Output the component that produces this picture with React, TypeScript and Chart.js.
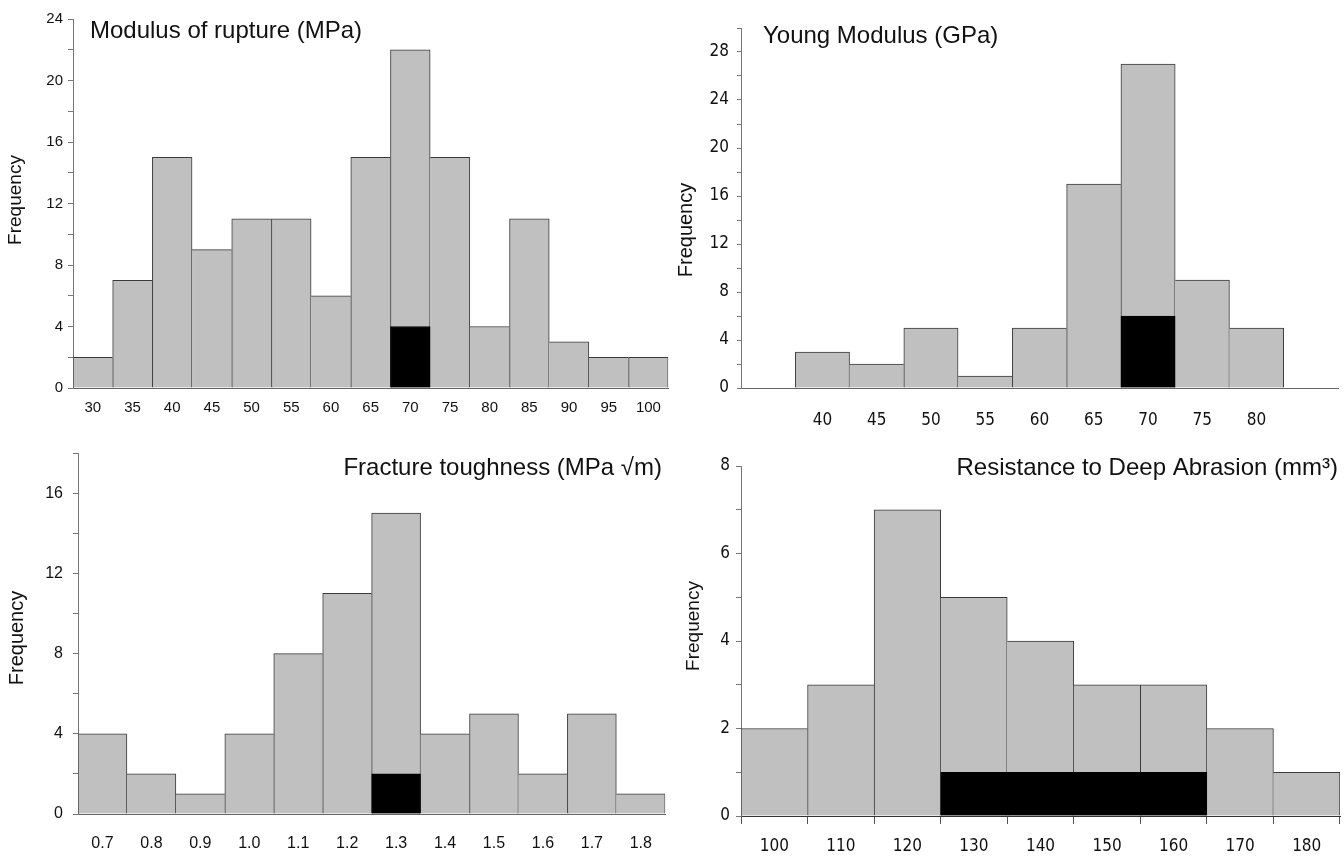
import React, { useEffect, useRef } from "react";
import { Chart, registerables } from "chart.js";

Chart.register(...registerables);

// ---------- DATA ----------
const ruptureBins = ["30", "35", "40", "45", "50", "55", "60", "65", "70", "75", "80", "85", "90", "95", "100"];
const ruptureCounts = [2, 7, 15, 9, 11, 11, 6, 15, 22, 15, 4, 11, 3, 2, 2];
const ruptureHighlighted = [0, 0, 0, 0, 0, 0, 0, 0, 4, 0, 0, 0, 0, 0, 0];

const youngBins = ["", "40", "45", "50", "55", "60", "65", "70", "75", "80", ""];
const youngCounts = [0, 3, 2, 5, 1, 5, 17, 27, 9, 5, 0];
const youngHighlighted = [0, 0, 0, 0, 0, 0, 0, 6, 0, 0, 0];

const toughnessBins = ["0.7", "0.8", "0.9", "1.0", "1.1", "1.2", "1.3", "1.4", "1.5", "1.6", "1.7", "1.8"];
const toughnessCounts = [4, 2, 1, 4, 8, 11, 15, 4, 5, 2, 5, 1];
const toughnessHighlighted = [0, 0, 0, 0, 0, 0, 2, 0, 0, 0, 0, 0];

const abrasionBins = ["100", "110", "120", "130", "140", "150", "160", "170", "180"];
const abrasionCounts = [2, 3, 7, 5, 4, 3, 3, 2, 1];
const abrasionHighlighted = [0, 0, 0, 1, 1, 1, 1, 0, 0];

// ---------- STYLE ----------
const SANS = '"Liberation Sans", Arial, Helvetica, sans-serif';
const NARROW = '"DejaVu Sans Condensed", "Liberation Sans", Arial, sans-serif';

type PanelCfg = {
  left: number; top: number; width: number; height: number;
  labels: string[]; counts: number[]; highlighted: number[];
  yMax: number; yStep: number; yLabelEvery: number;
  chartTop: number; chartBottom: number; yWidth: number; padRight: number;
  tickFont: string; tickSize: number; xPad: number; yPad: number; yTick: number;
  xTicks: boolean;
  title: string; titleX: number; titleY: number; titleAlign: CanvasTextAlign; titleSize: number;
  yLabelX: number; yLabelY: number; yLabelSize: number;
};

const textPlugin = {
  id: "panelText",
  afterDraw(chart: any, _args: any, opts: any) {
    const ctx = chart.ctx as CanvasRenderingContext2D;
    ctx.save();
    ctx.fillStyle = "#111";
    ctx.font = `${opts.titleSize}px ${SANS}`;
    ctx.textAlign = opts.titleAlign;
    ctx.textBaseline = "alphabetic";
    ctx.fillText(opts.title, opts.titleX, opts.titleY);
    ctx.translate(opts.yLabelX, opts.yLabelY);
    ctx.rotate(-Math.PI / 2);
    ctx.font = `${opts.yLabelSize}px ${SANS}`;
    ctx.textAlign = "center";
    ctx.textBaseline = "middle";
    ctx.fillText("Frequency", 0, 0);
    ctx.restore();
  },
};

function nz(arr: number[]) {
  return arr.map((v) => (v > 0 ? v : null));
}

function Panel({ cfg }: { cfg: PanelCfg }) {
  const ref = useRef<HTMLCanvasElement>(null);
  useEffect(() => {
    const canvas = ref.current!;
    const totals = nz(cfg.counts);
    const chart = new Chart(canvas, {
      type: "bar",
      data: {
        labels: cfg.labels,
        datasets: [
          {
            data: nz(cfg.highlighted),
            backgroundColor: "#000000",
            borderColor: "#000000",
            borderWidth: 1,
            grouped: false,
            barPercentage: 1,
            categoryPercentage: 1,
          } as any,
          {
            data: totals,
            backgroundColor: "#c0c0c0",
            borderColor: "#3a3a3a",
            borderSkipped: false,
            borderWidth: (c: any) => {
              const d = c.dataset.data as (number | null)[];
              const i = c.dataIndex;
              const v = d[i] ?? 0;
              const prev = i > 0 ? d[i - 1] ?? 0 : 0;
              const next = i < d.length - 1 ? d[i + 1] ?? 0 : 0;
              return { top: 1, bottom: 0, left: prev <= v ? 1 : 0, right: next < v ? 1 : 0 };
            },
            grouped: false,
            barPercentage: 1,
            categoryPercentage: 1,
          } as any,
        ],
      },
      options: {
        responsive: false,
        animation: false,
        layout: { padding: { top: cfg.chartTop, right: cfg.padRight, left: 0, bottom: 0 } },
        plugins: {
          legend: { display: false },
          tooltip: { enabled: false },
          panelText: {
            title: cfg.title, titleX: cfg.titleX, titleY: cfg.titleY, titleAlign: cfg.titleAlign,
            titleSize: cfg.titleSize, yLabelX: cfg.yLabelX, yLabelY: cfg.yLabelY, yLabelSize: cfg.yLabelSize,
          },
        } as any,
        scales: {
          x: {
            type: "category",
            offset: true,
            afterFit: (s: any) => { s.height = cfg.height - cfg.chartBottom; },
            grid: cfg.xTicks
              ? { display: true, drawOnChartArea: false, offset: true, tickLength: 8, color: "#555" }
              : { display: false, drawTicks: false },
            border: { display: true, color: cfg.xTicks ? "#333" : "#666", width: 1 },
            ticks: {
              autoSkip: false, maxRotation: 0, padding: cfg.xPad, color: "#111",
              font: { family: cfg.tickFont, size: cfg.tickSize },
            },
          },
          y: {
            min: 0,
            max: cfg.yMax,
            afterFit: (s: any) => { s.width = cfg.yWidth; },
            grid: { display: true, drawOnChartArea: false, tickLength: cfg.yTick, color: "#777" },
            border: { display: true, color: "#777", width: 1 },
            ticks: {
              stepSize: cfg.yStep,
              padding: cfg.yPad,
              color: "#111",
              font: { family: cfg.tickFont, size: cfg.tickSize },
              callback: (v: any) => (Number(v) % cfg.yLabelEvery === 0 ? String(v) : ""),
            },
          },
        },
      } as any,
      plugins: [textPlugin],
    });
    return () => chart.destroy();
  }, [cfg]);
  return (
    <canvas
      ref={ref}
      width={cfg.width}
      height={cfg.height}
      style={{ position: "absolute", left: cfg.left, top: cfg.top, width: cfg.width, height: cfg.height }}
    />
  );
}

const panels: PanelCfg[] = [
  {
    left: 0, top: 0, width: 672, height: 430,
    labels: ruptureBins, counts: ruptureCounts, highlighted: ruptureHighlighted,
    yMax: 24, yStep: 2, yLabelEvery: 4,
    chartTop: 19, chartBottom: 388, yWidth: 73, padRight: 2,
    tickFont: SANS, tickSize: 15, xPad: 11, yPad: 5, yTick: 5, xTicks: false,
    title: "Modulus of rupture (MPa)", titleX: 90, titleY: 38, titleAlign: "left", titleSize: 24,
    yLabelX: 16, yLabelY: 200, yLabelSize: 19,
  },
  {
    left: 672, top: 0, width: 672, height: 430,
    labels: youngBins, counts: youngCounts, highlighted: youngHighlighted,
    yMax: 30, yStep: 2, yLabelEvery: 4,
    chartTop: 28, chartBottom: 388, yWidth: 69, padRight: 6,
    tickFont: NARROW, tickSize: 17, xPad: 22, yPad: 8, yTick: 4, xTicks: false,
    title: "Young Modulus (GPa)", titleX: 91, titleY: 43, titleAlign: "left", titleSize: 24,
    yLabelX: 14, yLabelY: 230, yLabelSize: 20,
  },
  {
    left: 0, top: 430, width: 672, height: 427,
    labels: toughnessBins, counts: toughnessCounts, highlighted: toughnessHighlighted,
    yMax: 18, yStep: 2, yLabelEvery: 4,
    chartTop: 23, chartBottom: 384, yWidth: 78, padRight: 2,
    tickFont: SANS, tickSize: 16, xPad: 20, yPad: 10, yTick: 5, xTicks: false,
    title: "Fracture toughness (MPa \u221Am)", titleX: 662, titleY: 45, titleAlign: "right", titleSize: 24,
    yLabelX: 17, yLabelY: 208, yLabelSize: 20,
  },
  {
    left: 672, top: 430, width: 672, height: 427,
    labels: abrasionBins, counts: abrasionCounts, highlighted: abrasionHighlighted,
    yMax: 8, yStep: 1, yLabelEvery: 2,
    chartTop: 36, chartBottom: 386, yWidth: 69, padRight: 4,
    tickFont: NARROW, tickSize: 17, xPad: 12, yPad: 6, yTick: 5, xTicks: true,
    title: "Resistance to Deep Abrasion (mm\u00B3)", titleX: 666, titleY: 45, titleAlign: "right", titleSize: 24,
    yLabelX: 22, yLabelY: 196, yLabelSize: 19,
  },
];

export default function App() {
  return (
    <div style={{ position: "absolute", left: 0, top: 0, width: 1344, height: 857, background: "#fff", overflow: "hidden" }}>
      {panels.map((p, i) => (
        <Panel key={i} cfg={p} />
      ))}
    </div>
  );
}
